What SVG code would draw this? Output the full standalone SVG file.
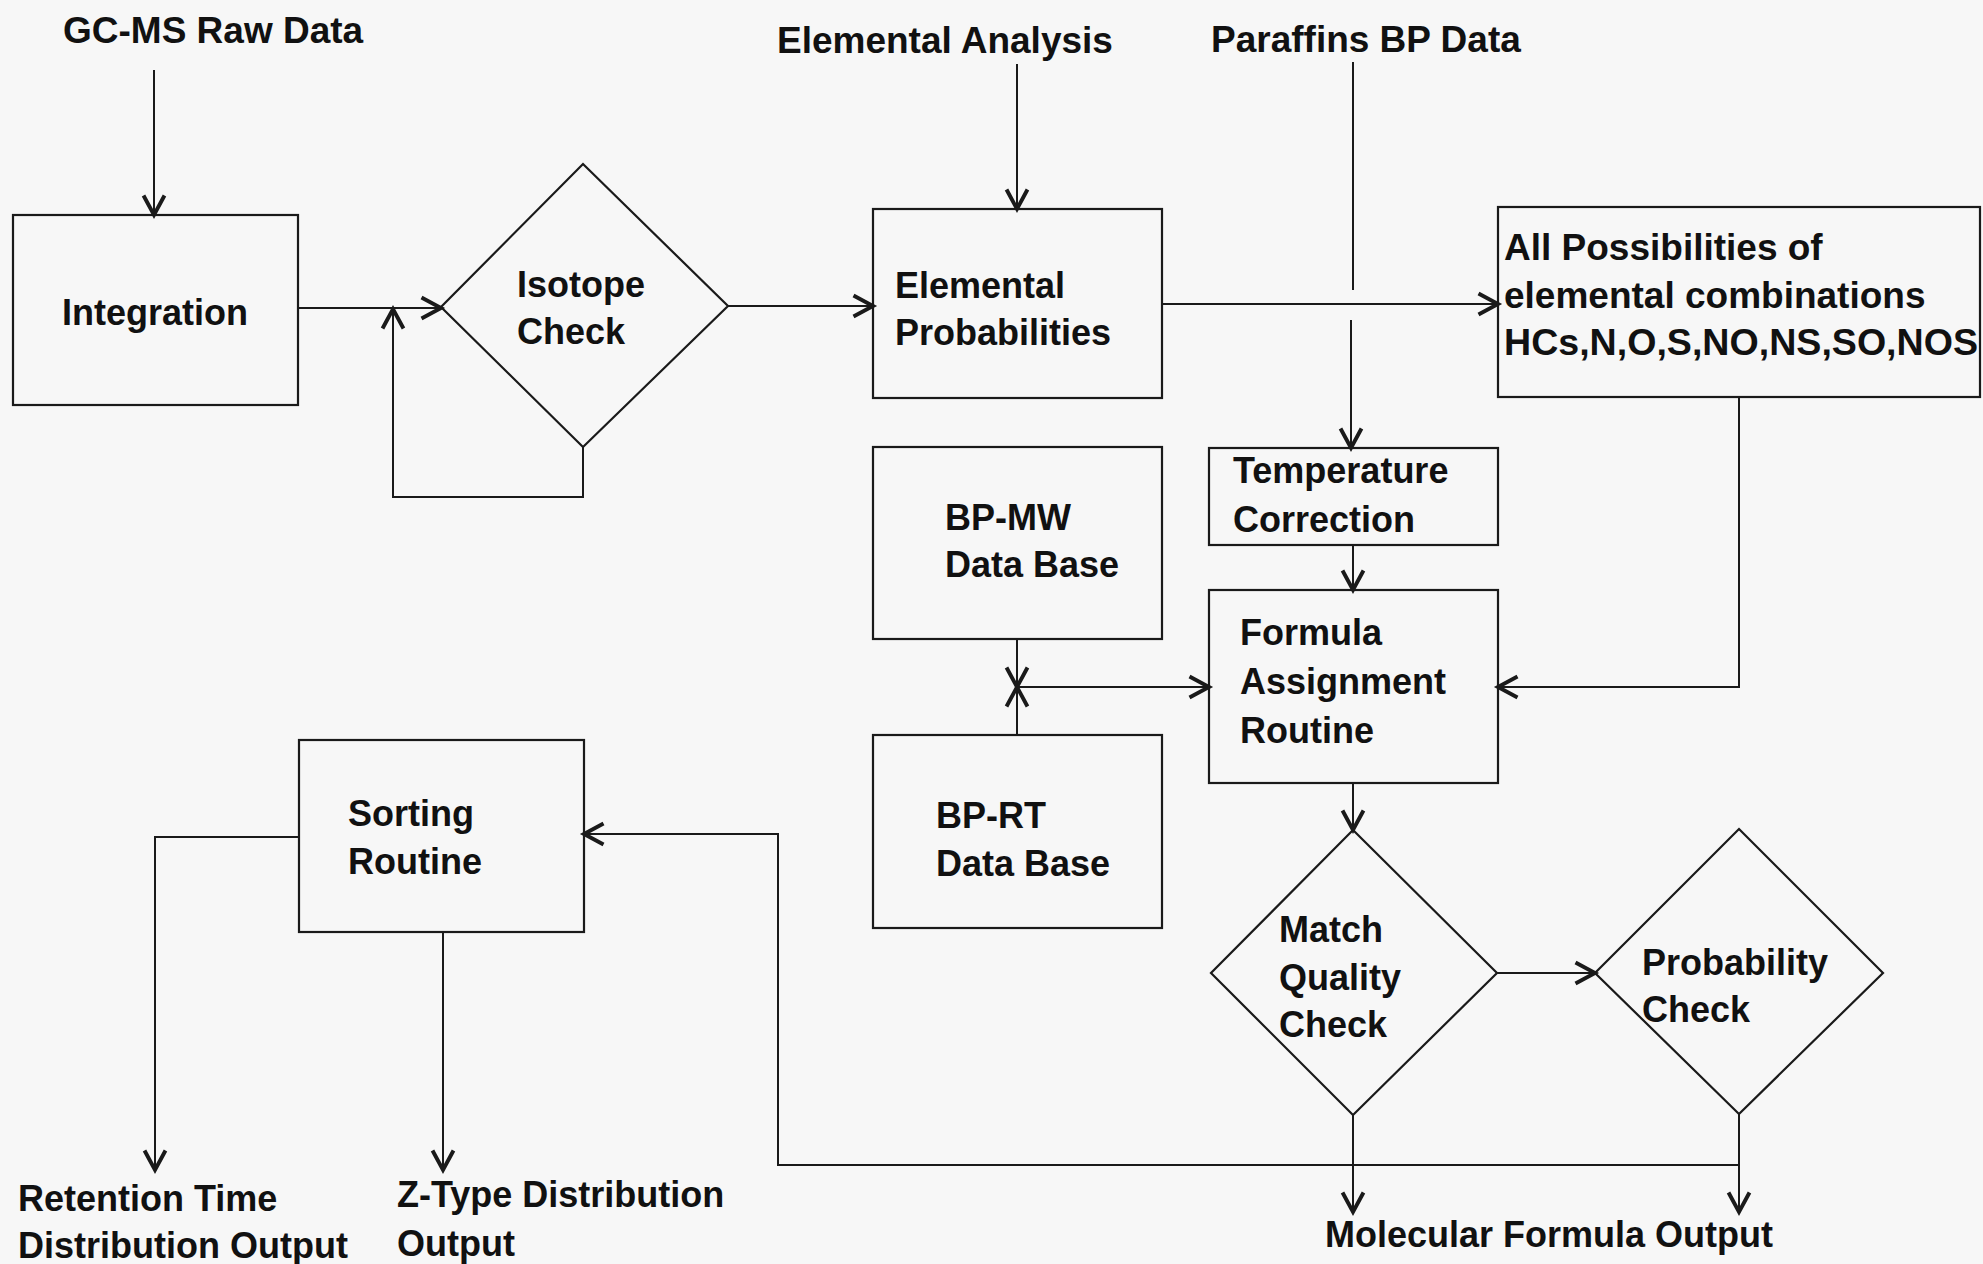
<svg xmlns="http://www.w3.org/2000/svg" width="1983" height="1264" viewBox="0 0 1983 1264">
<style>
.bg{fill:#f7f7f7}
.n{fill:none;stroke:#1a1a1a;stroke-width:2.2}
.c{fill:none;stroke:#1a1a1a;stroke-width:2}
text{font-family:"Liberation Sans",Arial,sans-serif;font-weight:bold;font-size:36px;fill:#111}
.big{font-size:37px}
</style>
<defs>
<marker id="ah" markerUnits="userSpaceOnUse" markerWidth="30" markerHeight="30" viewBox="-16 -10 20 20" refX="0" refY="0" orient="auto">
<path d="M-13,-7 L0,0 L-13,7" fill="none" stroke="#1a1a1a" stroke-width="2.6"/>
</marker>
</defs>
<rect class="bg" x="0" y="0" width="1983" height="1264"/>

<g id="gcms-raw-data"><text class="big" x="63" y="43">GC-MS Raw Data</text></g>
<g id="elemental-analysis"><text class="big" x="777" y="53">Elemental Analysis</text></g>
<g id="paraffins-bp-data"><text class="big" x="1211" y="52">Paraffins BP Data</text></g>

<g id="integration">
<rect class="n" x="13" y="215" width="285" height="190"/>
<text x="62" y="325">Integration</text>
</g>
<g id="isotope-check">
<polygon class="n" points="583,164 728,306 583,447 441,307"/>
<text x="517" y="297">Isotope</text>
<text x="517" y="344">Check</text>
</g>
<g id="elemental-probabilities">
<rect class="n" x="873" y="209" width="289" height="189"/>
<text x="895" y="298">Elemental</text>
<text x="895" y="345">Probabilities</text>
</g>
<g id="all-possibilities">
<rect class="n" x="1498" y="207" width="482" height="190"/>
<text class="big" x="1504" y="260">All Possibilities of</text>
<text class="big" x="1504" y="308">elemental combinations</text>
<text class="big" x="1504" y="355" textLength="474" lengthAdjust="spacingAndGlyphs">HCs,N,O,S,NO,NS,SO,NOS</text>
</g>
<g id="temperature-correction">
<rect class="n" x="1209" y="448" width="289" height="97"/>
<text x="1233" y="483">Temperature</text>
<text x="1233" y="532">Correction</text>
</g>
<g id="bp-mw-database">
<rect class="n" x="873" y="447" width="289" height="192"/>
<text x="945" y="530">BP-MW</text>
<text x="945" y="577">Data Base</text>
</g>
<g id="formula-assignment">
<rect class="n" x="1209" y="590" width="289" height="193"/>
<text x="1240" y="645">Formula</text>
<text x="1240" y="694">Assignment</text>
<text x="1240" y="743">Routine</text>
</g>
<g id="bp-rt-database">
<rect class="n" x="873" y="735" width="289" height="193"/>
<text x="936" y="828">BP-RT</text>
<text x="936" y="876">Data Base</text>
</g>
<g id="sorting-routine">
<rect class="n" x="299" y="740" width="285" height="192"/>
<text x="348" y="826">Sorting</text>
<text x="348" y="874">Routine</text>
</g>
<g id="match-quality-check">
<polygon class="n" points="1353,830 1497,973 1353,1115 1211,973"/>
<text x="1279" y="942">Match</text>
<text x="1279" y="990">Quality</text>
<text x="1279" y="1037">Check</text>
</g>
<g id="probability-check">
<polygon class="n" points="1739,829 1883,973 1739,1114 1595,973"/>
<text x="1642" y="975">Probability</text>
<text x="1642" y="1022">Check</text>
</g>
<g id="retention-output">
<text x="18" y="1211">Retention Time</text>
<text x="18" y="1258">Distribution Output</text>
</g>
<g id="ztype-output">
<text x="397" y="1207">Z-Type Distribution</text>
<text x="397" y="1256">Output</text>
</g>
<g id="molecular-formula-output"><text x="1325" y="1247">Molecular Formula Output</text></g>

<g id="connectors">
<path class="c" d="M154,70 V215" marker-end="url(#ah)"/>
<path class="c" d="M298,308 H441" marker-end="url(#ah)"/>
<path class="c" d="M583,447 V497 H393 V309" marker-end="url(#ah)"/>
<path class="c" d="M728,306 H873" marker-end="url(#ah)"/>
<path class="c" d="M1017,64 V209" marker-end="url(#ah)"/>
<path class="c" d="M1162,304 H1498" marker-end="url(#ah)"/>
<path class="c" d="M1353,62 V290"/>
<path class="c" d="M1351,320 V448" marker-end="url(#ah)"/>
<path class="c" d="M1353,545 V590" marker-end="url(#ah)"/>
<path class="c" d="M1739,397 V687 H1498" marker-end="url(#ah)"/>
<path class="c" d="M1017,639 V687" marker-end="url(#ah)"/>
<path class="c" d="M1017,735 V687" marker-end="url(#ah)"/>
<path class="c" d="M1017,687 H1209" marker-end="url(#ah)"/>
<path class="c" d="M1353,783 V830" marker-end="url(#ah)"/>
<path class="c" d="M1497,973 H1595" marker-end="url(#ah)"/>
<path class="c" d="M1353,1115 V1212" marker-end="url(#ah)"/>
<path class="c" d="M1739,1114 V1212" marker-end="url(#ah)"/>
<path class="c" d="M1739,1165 H778 V834 H584" marker-end="url(#ah)"/>
<path class="c" d="M299,837 H155 V1170" marker-end="url(#ah)"/>
<path class="c" d="M443,932 V1170" marker-end="url(#ah)"/>
</g>
</svg>
